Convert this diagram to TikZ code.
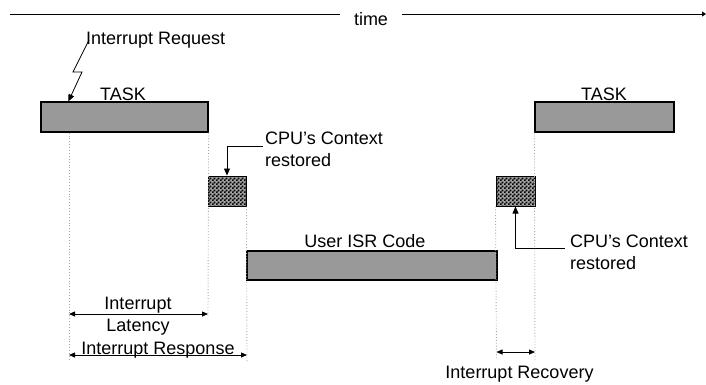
\documentclass[tikz,border=0pt]{standalone}
\usepackage{fontspec}
\setmainfont{Liberation Sans}
\usetikzlibrary{arrows.meta,patterns}

% fine black/white checkerboard for the context save/restore blocks
\pgfdeclarepatternformonly{finechecker}{\pgfpointorigin}{\pgfqpoint{4pt}{4pt}}{\pgfqpoint{4pt}{4pt}}{%
  \pgfpathrectangle{\pgfpointorigin}{\pgfqpoint{2pt}{2pt}}%
  \pgfpathrectangle{\pgfqpoint{2pt}{2pt}}{\pgfqpoint{2pt}{2pt}}%
  \pgfusepath{fill}}

\definecolor{barfill}{HTML}{999999}
\definecolor{guide}{HTML}{A8A8A8}
\definecolor{checkbg}{HTML}{A0A0A0}

\tikzset{
  lbl/.style={inner sep=0pt, font=\fontsize{18}{22}\selectfont},
  bar/.style={draw=black, line width=1.2pt, fill=barfill, inner sep=0pt},
  ctxbox/.style={draw=black, line width=1pt, preaction={fill=checkbg},
    pattern=finechecker, inner sep=0pt, minimum height=30pt},
  guideline/.style={draw=guide, line width=0.9pt, dotted},
  tip/.style={-{Triangle[length=7pt,width=6pt]}, line width=0.8pt},
  span/.style={{Triangle[length=6pt,width=5pt]}-{Triangle[length=6pt,width=5pt]}, line width=0.8pt},
}

\begin{document}
\begin{tikzpicture}[x=1pt, y=-1pt]
\useasboundingbox (0,0) rectangle (706,384);

% time axis
\node[lbl, inner xsep=14pt, anchor=base] (time) at (371,25) {time};
\coordinate (tl) at (10,14);
\coordinate (tr) at (706,14);
\draw[line width=0.8pt] (tl) -- (tl -| time.west);
\draw[line width=0.8pt, -{Triangle[length=4pt,width=5pt]}] (tl -| time.east) -- (tr);

% bars
\node[bar, minimum width=167pt, minimum height=30pt] (task1) at (124.5,117) {};
\node[bar, minimum width=139pt, minimum height=30pt] (task2) at (604.5,117) {};
\node[bar, minimum width=250pt, minimum height=29pt] (isr) at (372,265.5) {};
\node[ctxbox, minimum width=38pt] (ctx1) at (227,191) {};
\node[ctxbox, minimum width=39pt] (ctx2) at (515.5,191) {};

% bar captions
\node[lbl, anchor=base] (t1lbl) at (123,100) {TASK};
\node[lbl, anchor=base] (t2lbl) at (604,100) {TASK};
\node[lbl, anchor=base] (isrlbl) at (365,247) {User ISR Code};

% interrupt request with zig-zag arrow
\node[lbl, anchor=base west] (irq) at (86,44) {Interrupt Request};
\coordinate (z1) at (73,72);
\coordinate (z2) at (82,72);
\draw[tip] ([xshift=3pt,yshift=4pt]irq.base west) -- (z1) -- (z2) -- ([xshift=28pt]task1.north west);

% context restored callouts
\node[lbl, align=left, anchor=west] (cpu1) at (265,149.5) {CPU’s Context\\restored};
\draw[tip] ([xshift=-2pt,yshift=3.5pt]cpu1.west) -| (ctx1.north);
\node[lbl, align=left, anchor=west] (cpu2) at (570,252.5) {CPU’s Context\\restored};
\draw[tip] ([xshift=-5pt,yshift=4.5pt]cpu2.west) -| (ctx2.south);

% dotted time markers
\coordinate (g1) at (69,360);
\coordinate (g2) at (208,317);
\coordinate (g3) at (247,361);
\coordinate (g4) at (496.5,360);
\coordinate (g5) at (535,360);
\draw[guideline] (task1.south -| g1) -- (g1);
\draw[guideline] (task1.south east) -- (g2);
\draw[guideline] (ctx1.south east) -- (g3);
\draw[guideline] (ctx2.south west) -- (g4);
\draw[guideline] (task2.south west) -- (g5);

% interval measurements
\draw[span] (g1 |- 0,314) -- (g2 |- 0,314);
\node[lbl, align=center] (lat) at (138,316.5) {Interrupt\\Latency};
\draw[span] (g1 |- 0,355) -- (g3 |- 0,355);
\node[lbl, anchor=base] (resp) at (158,354) {Interrupt Response};
\draw[span] (g4 |- 0,352) -- (g5 |- 0,352);
\node[lbl, anchor=base] (rec) at (519.5,378) {Interrupt Recovery};
\end{tikzpicture}
\end{document}
